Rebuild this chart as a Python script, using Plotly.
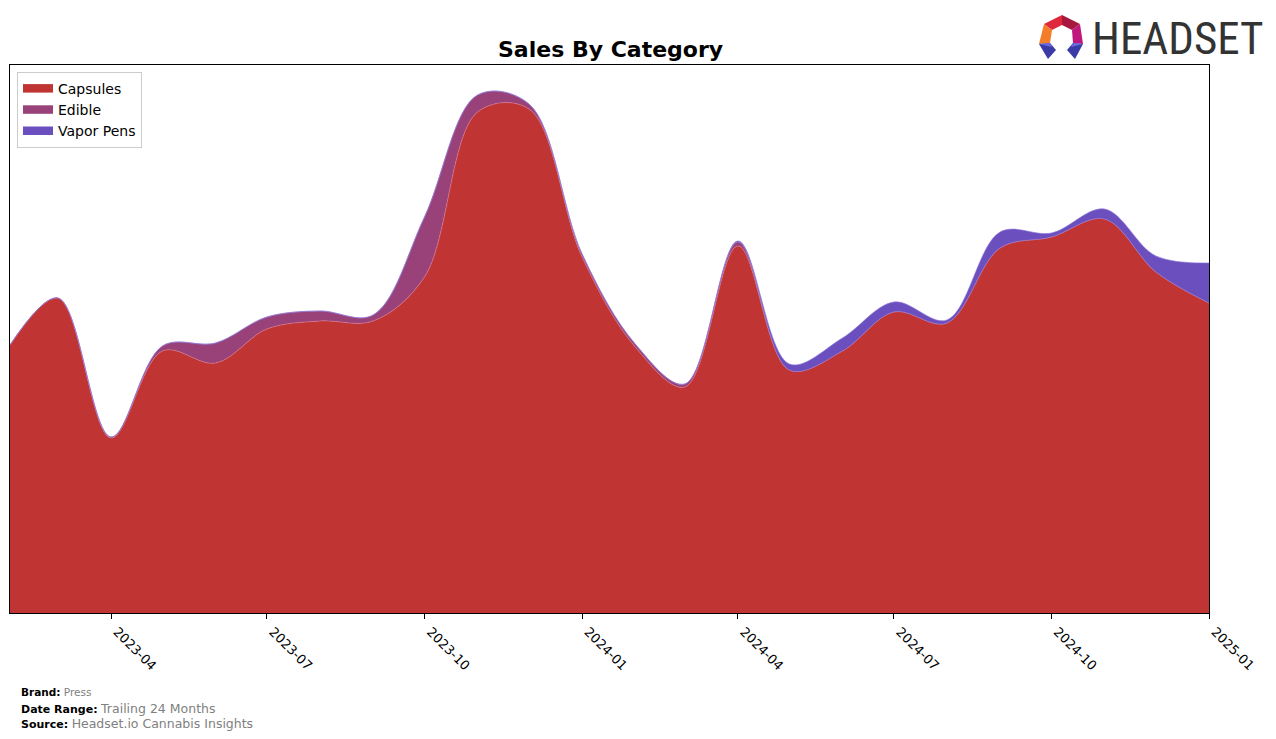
import plotly.graph_objects as go

# ---- data (arbitrary sales units) ----
months = ["2023-02-01", "2023-03-01", "2023-04-01", "2023-05-01", "2023-06-01", "2023-07-01",
          "2023-08-01", "2023-09-01", "2023-10-01", "2023-11-01", "2023-12-01", "2024-01-01",
          "2024-02-01", "2024-03-01", "2024-04-01", "2024-05-01", "2024-06-01", "2024-07-01",
          "2024-08-01", "2024-09-01", "2024-10-01", "2024-11-01", "2024-12-01", "2025-01-01"]
capsules = [268, 315, 175, 262, 250, 284, 292, 292, 336, 501, 504, 356,
            266, 226, 367, 243, 262, 301, 290, 365, 376, 394, 341, 310]
edible = [0, 0, 1, 5, 20, 12, 10, 6, 60, 17, 5, 3,
          3, 3, 4, 0, 0, 0, 0, 0, 0, 0, 0, 0]
vapor_pens = [0, 0, 0, 0, 0, 0, 0, 0, 0, 0, 0, 0,
              0, 0, 1, 6, 13, 10, 3, 16, 4, 10, 16, 40]

tick_vals = ["2023-04-01", "2023-07-01", "2023-10-01", "2024-01-01",
             "2024-04-01", "2024-07-01", "2024-10-01", "2025-01-01"]
tick_text = ["2023-04", "2023-07", "2023-10", "2024-01",
             "2024-04", "2024-07", "2024-10", "2025-01"]

series = [("Capsules", capsules, "#c13434", "rgba(215,120,140,0.9)"),
          ("Edible", edible, "#99427a", "rgba(160,120,200,0.9)"),
          ("Vapor Pens", vapor_pens, "#6b4fbf", "rgba(140,120,220,0.9)")]

W, H = 1276, 739
L, R, T, B = 10, 1209, 65, 613


def px(x):
    return (x - L) / (R - L)


def py(y):
    return (B - y) / (B - T)


fig = go.Figure()
for name, vals, color, edge in series:
    fig.add_trace(go.Scatter(
        x=months, y=vals, name=name, mode="lines", stackgroup="one",
        line=dict(shape="spline", smoothing=1.0, width=0.7, color=edge),
        fillcolor=color, hoverinfo="x+y+name", showlegend=False,
    ))
# legend-only entries with solid swatches
for name, vals, color, edge in series:
    fig.add_trace(go.Scatter(
        x=[None], y=[None], name=name, mode="lines", fill="toself",
        fillcolor=color, line=dict(color=color, width=4), showlegend=True,
    ))

fig.update_layout(
    width=W, height=H,
    margin=dict(l=L, r=W - R, t=T, b=H - B),
    paper_bgcolor="white", plot_bgcolor="white",
    font=dict(family="DejaVu Sans", color="black"),
    showlegend=True,
    legend=dict(x=px(17), y=py(72), xanchor="left", yanchor="top",
                bgcolor="white", bordercolor="#cccccc", borderwidth=1,
                font=dict(size=14, family="DejaVu Sans"), itemsizing="constant",
                traceorder="normal", tracegroupgap=0),
    xaxis=dict(type="date", range=[months[0], months[-1]],
               tickmode="array", tickvals=tick_vals, ticktext=tick_text,
               tickangle=45, ticks="outside", ticklen=5, tickcolor="black",
               ticklabelshift=6,
               tickfont=dict(size=13, family="DejaVu Sans", color="black"),
               showgrid=False, zeroline=False,
               showline=True, linecolor="black", linewidth=1, mirror=True),
    yaxis=dict(range=[0, 548], showticklabels=False, ticks="",
               showgrid=False, zeroline=False,
               showline=True, linecolor="black", linewidth=1, mirror=True),
)

annotations = [
    dict(text="<b>Sales By Category</b>", x=px(610), y=py(50), xref="paper", yref="paper",
         xanchor="center", yanchor="middle", showarrow=False,
         font=dict(size=22, family="DejaVu Sans", color="black")),
    dict(text="<b>Brand:</b> <span style='color:#808080'>Press</span>",
         x=px(19), y=py(692), xref="paper", yref="paper", xanchor="left", yanchor="middle",
         showarrow=False, font=dict(size=10.5, family="DejaVu Sans", color="black")),
    dict(text="<b>Date Range:</b> <span style='color:#808080;font-size:12.5px'>Trailing 24 Months</span>",
         x=px(19), y=py(708), xref="paper", yref="paper", xanchor="left", yanchor="middle",
         showarrow=False, font=dict(size=11, family="DejaVu Sans", color="black")),
    dict(text="<b>Source:</b> <span style='color:#808080;font-size:12.5px'>Headset.io Cannabis Insights</span>",
         x=px(19), y=py(723), xref="paper", yref="paper", xanchor="left", yanchor="middle",
         showarrow=False, font=dict(size=11, family="DejaVu Sans", color="black")),
    dict(text="HEADSET", x=px(1090), y=py(39), xref="paper", yref="paper",
         xanchor="left", yanchor="middle", showarrow=False,
         font=dict(size=45, family="Liberation Sans Narrow, Roboto Condensed, Roboto", color="#333333")),
]
fig.update_layout(annotations=annotations)

# logo icon polygons (pixel coords -> paper)
polys = [
    ([(1044, 24), (1062, 15), (1062, 25), (1052, 30)], "#e0283c"),
    ([(1062, 15), (1080, 24), (1072, 30), (1062, 25)], "#a8173f"),
    ([(1044, 24), (1052, 30), (1050, 43), (1039, 44)], "#f47d2a"),
    ([(1080, 24), (1083, 44), (1073, 43), (1072, 30)], "#c0177f"),
    ([(1039, 44), (1050, 43), (1056, 50), (1048, 59)], "#3b3ba8"),
    ([(1083, 44), (1073, 43), (1067, 50), (1075, 59)], "#3b3ba8"),
    ([(1039, 44), (1050, 43), (1052, 47)], "#6a6ae0"),
    ([(1083, 44), (1073, 43), (1071, 47)], "#6a6ae0"),
]
shapes = []
for pts, col in polys:
    path = "M " + " L ".join(f"{px(x):.5f},{py(y):.5f}" for x, y in pts) + " Z"
    shapes.append(dict(type="path", path=path, xref="paper", yref="paper",
                       fillcolor=col, line=dict(width=0), layer="above"))
fig.update_layout(shapes=shapes)

fig.write_html("out.html")
